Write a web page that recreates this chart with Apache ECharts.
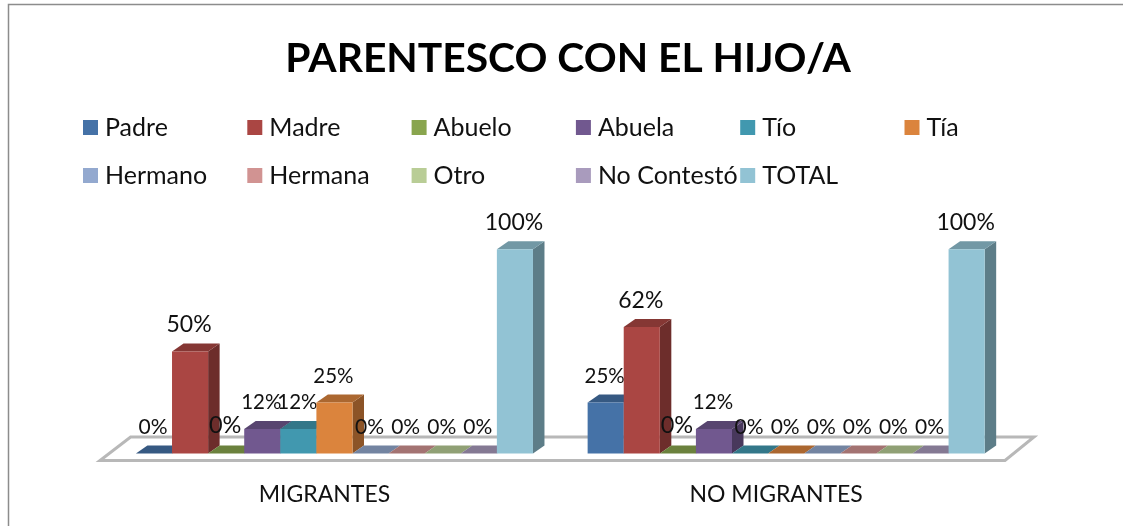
<!DOCTYPE html>
<html><head><meta charset="utf-8">
<style>html,body{margin:0;padding:0;background:#fff}#c{width:1123px;height:526px}</style>
<script src="https://cdn.jsdelivr.net/npm/echarts@6/dist/echarts.min.js"></script>
</head><body><div id="c"></div>
<script>
var categories = ['MIGRANTES', 'NO MIGRANTES'];
var padre = [0, 25];
var madre = [50, 62];
var abuelo = [0, 0];
var abuela = [12, 12];
var tio = [12, 0];
var tia = [25, 0];
var hermano = [0, 0];
var hermana = [0, 0];
var otro = [0, 0];
var noContesto = [0, 0];
var total = [100, 100];
var title = 'PARENTESCO CON EL HIJO/A';

var seriesDefs = [
  ['Padre', padre, '#4572a7', 20.5], ['Madre', madre, '#aa4643', 23], ['Abuelo', abuelo, '#89a54e', 23.5],
  ['Abuela', abuela, '#71588f', 20.5], ['Tío', tio, '#4198af', 20.5], ['Tía', tia, '#db843d', 20.5],
  ['Hermano', hermano, '#93a9cf', 20.5], ['Hermana', hermana, '#d19392', 20.5], ['Otro', otro, '#b9cd96', 20.5],
  ['No Contestó', noContesto, '#a99bbd', 20.5], ['TOTAL', total, '#92c3d4', 23]
];
var FONT = 'Lato';
var gridL = 108.6, gridW = 903.4, gridT = 249.3, gridH = 204.2;
var dx = 11.5, dy = 8, gapRatio = 0.121;

function shade(hex, f) {
  var n = parseInt(hex.slice(1), 16);
  var c = [n >> 16, (n >> 8) & 255, n & 255].map(function (v) { return Math.round(v * f); });
  return 'rgb(' + c.join(',') + ')';
}
function bar3d(si, color, fontSize) {
  return function (params, api) {
    var cat = api.value(0), val = api.value(1);
    var base = api.coord([cat, 0]), top = api.coord([cat, val]);
    var band = api.size([1, 0])[0];
    var w = band * (1 - gapRatio) / seriesDefs.length;
    var x0 = base[0] - w * seriesDefs.length / 2 + si * w, x1 = x0 + w;
    var yb = base[1], yt = top[1];
    var kids = [];
    if (val > 0) {
      kids.push({ type: 'polygon', shape: { points: [[x1, yb], [x1 + dx, yb - dy], [x1 + dx, yt - dy], [x1, yt]] }, style: { fill: shade(color, 0.64) } });
      kids.push({ type: 'polygon', shape: { points: [[x0, yt], [x1, yt], [x1 + dx, yt - dy], [x0 + dx, yt - dy]] }, style: { fill: shade(color, 0.78) } });
      kids.push({ type: 'rect', shape: { x: x0, y: yt, width: w, height: yb - yt }, style: { fill: color } });
    } else {
      kids.push({ type: 'polygon', shape: { points: [[x0, yb], [x1, yb], [x1 + dx, yb - dy], [x0 + dx, yb - dy]] }, style: { fill: shade(color, 0.78) } });
    }
    var fs = (val === 0 && fontSize === 20.5) ? 21 : fontSize;
    kids.push({ type: 'text', z2: 50, style: { text: val + '%', x: (x0 + x1) / 2 - 1, y: yt - 26.5 - (val === 0 && fontSize > 23 ? 2 : 0), align: 'center', verticalAlign: 'middle', fill: '#111', font: fs + 'px ' + FONT } });
    return { type: 'group', children: kids };
  };
}
var series = [{
  type: 'custom', name: '_floor', silent: true, z: 1, coordinateSystem: 'cartesian2d',
  data: [[0, 0]], encode: { x: 0, y: 1 },
  renderItem: function (params, api) {
    var b = api.coord([0, 0]), cs = params.coordSys, yb = b[1] + 7, yt = b[1] - 16.5;
    return { type: 'polygon', shape: { points: [[cs.x - 8.6, yb], [cs.x + cs.width - 7, yb], [cs.x + cs.width + 22, yt], [cs.x + 22, yt]] },
      style: { fill: '#fff', stroke: '#b8b8b8', lineWidth: 3 } };
  }
}];
seriesDefs.forEach(function (d, si) {
  series.push({
    type: 'custom', name: d[0], z: 2 + si, coordinateSystem: 'cartesian2d',
    itemStyle: { color: d[2] },
    data: d[1].map(function (v, i) { return [i, v]; }), encode: { x: 0, y: 1 },
    renderItem: bar3d(si, d[2], d[3])
  });
});
var legends = seriesDefs.map(function (d, i) {
  var col = i % 6, row = i < 6 ? 0 : 1;
  return { data: [{ name: d[0], icon: 'rect' }], left: 83 + col * 164.3, top: 115 + row * 48, padding: 0,
    itemWidth: 15, itemHeight: 15, itemGap: 0, selectedMode: false,
    textStyle: { fontFamily: FONT, fontSize: 25, color: '#111', padding: [0, 0, 0, 2] } };
});
var chart = echarts.init(document.getElementById('c'), null, { renderer: 'canvas' });
chart.setOption({
  animation: false, backgroundColor: '#fff',
  title: { text: title, left: 568, top: 38, textAlign: 'center', padding: 0,
    textStyle: { fontFamily: FONT, fontSize: 40.8, fontWeight: 'bold', color: '#000' } },
  legend: legends,
  grid: { left: gridL, width: gridW, top: gridT, height: gridH },
  xAxis: { type: 'category', data: categories, axisLine: { show: false }, axisTick: { show: false },
    axisLabel: { fontFamily: FONT, fontSize: 23, color: '#111', margin: 30, padding: [0, 20, 0, 0] } },
  yAxis: { type: 'value', min: 0, max: 100, show: false, splitLine: { show: false } },
  tooltip: { show: false },
  graphic: [{ type: 'polyline', silent: true, shape: { points: [[8.5, 526], [8.5, 4.5], [1123, 4.5]] }, style: { fill: null, stroke: '#8c8c8c', lineWidth: 1.5 } }],
  series: series
});
</script></body></html>
